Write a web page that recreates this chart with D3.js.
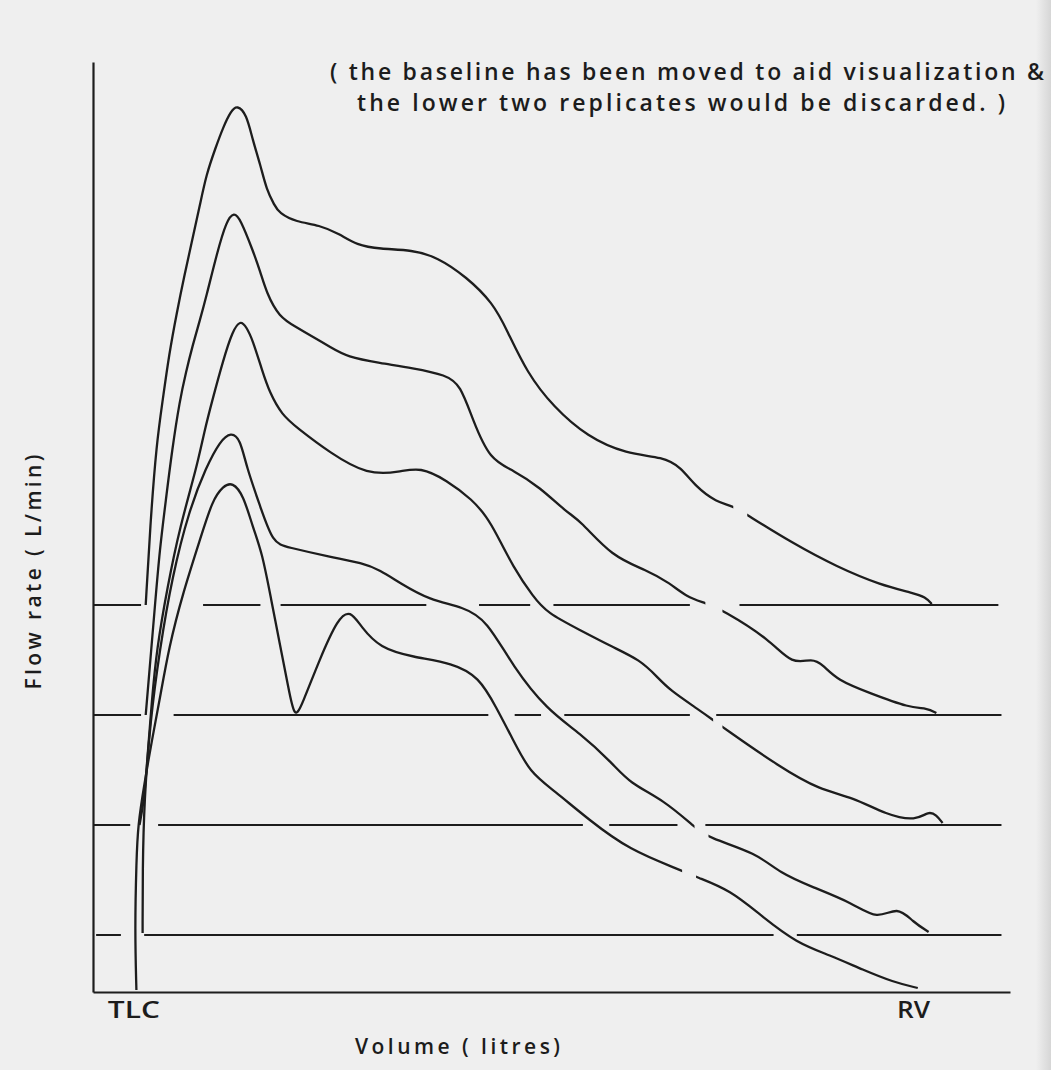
<!DOCTYPE html>
<html>
<head>
<meta charset="utf-8">
<script src="https://cdn.jsdelivr.net/npm/d3@7"></script>
<style>
  body { margin: 0; background: #efefef; }
  #container { width: 1051px; height: 1070px; }
  text { font-family: "Open Sans", "DejaVu Sans", sans-serif; font-weight: 600; fill: #1c1c1c; }
</style>
</head>
<body>
<div id="container"></div>
<script>
// replicates, top to bottom. volume in litres from TLC, flow in L/min above own baseline
const rep1Volume = [0.00,0.03,0.07,0.11,0.15,0.20,0.25,0.30,0.35,0.39,0.45,0.50,0.55,0.59,0.65,0.69,0.74,0.78,0.83,0.86,0.97,1.12,1.25,1.36,1.51,1.72,1.88,2.07,2.24,2.33,2.46,2.63,2.85,3.10,3.34,3.45,3.55,3.68,3.79,3.88,4.17,4.46,4.74,4.95,5.03,5.07];
const rep1Flow   = [0,82,162,205,250,292,330,365,400,430,457,478,494,500,491,465,440,415,400,392,383,380,371,360,356,355,348,328,302,275,232,198,168,151,148,138,118,103,99,90,62,38,20,12,8,1];

const rep2Volume = [0.00,0.03,0.06,0.09,0.13,0.17,0.22,0.26,0.30,0.35,0.39,0.46,0.52,0.57,0.61,0.69,0.74,0.78,0.86,0.97,1.08,1.19,1.30,1.51,1.72,1.94,2.03,2.11,2.22,2.37,2.54,2.72,2.80,3.01,3.23,3.38,3.49,3.61,3.72,4.03,4.17,4.30,4.37,4.46,4.67,4.93,5.04,5.10];
const rep2Flow   = [0,55,110,165,215,265,315,343,368,395,418,462,494,503,496,465,443,422,398,388,378,368,358,352,347,340,330,295,255,245,228,202,195,158,145,132,118,112,105,75,50,57,50,35,22,7,7,2];

const rep3Volume = [-0.04,-0.01,0.01,0.04,0.07,0.14,0.22,0.33,0.38,0.43,0.50,0.56,0.61,0.65,0.69,0.75,0.80,0.88,0.97,1.19,1.43,1.64,1.77,1.94,2.11,2.20,2.26,2.37,2.50,2.59,2.80,3.01,3.19,3.30,3.38,3.57,3.66,3.72,4.09,4.35,4.56,4.78,4.97,5.05,5.10,5.14];
const rep3Flow   = [0,25,65,125,175,238,298,358,395,425,465,494,505,498,485,455,432,410,398,372,350,353,358,345,325,308,292,258,228,212,195,178,165,148,135,115,105,98,58,35,28,10,4,14,10,2];

const rep4Volume = [-0.02,-0.02,-0.01,0.03,0.09,0.17,0.28,0.39,0.48,0.55,0.61,0.65,0.74,0.82,0.91,1.19,1.40,1.51,1.64,1.83,2.05,2.20,2.37,2.59,2.80,3.01,3.12,3.34,3.54,3.63,3.94,4.09,4.30,4.56,4.72,4.85,4.95,5.05];
const rep4Flow   = [2,65,135,215,285,358,425,468,494,503,496,468,428,392,388,378,372,365,352,335,328,315,268,225,202,172,152,135,108,97,82,62,48,32,15,29,13,3];

const rep5Volume = [-0.06,-0.07,-0.06,-0.05,-0.01,0.04,0.09,0.15,0.24,0.35,0.43,0.50,0.56,0.63,0.69,0.75,0.81,0.86,0.92,0.96,1.01,1.12,1.24,1.32,1.39,1.51,1.72,1.98,2.15,2.26,2.37,2.48,2.63,2.86,3.12,3.45,3.55,3.77,3.98,4.20,4.41,4.63,4.82,4.98];
const rep5Flow   = [2,62,132,167,207,252,292,345,399,452,492,506,510,497,465,440,392,352,305,272,288,332,374,382,365,344,335,329,315,285,252,219,202,172,142,122,115,102,75,49,37,22,10,4];

// baselines were shifted upward so the replicates do not overlap
const baselineOffsets = [387, 277, 167, 57, 0];

// breaks in the pen trace (volume from, to)
const curveGaps = [[3.79, 3.88], [3.61, 3.72], [3.66, 3.72], [3.54, 3.63], [3.46, 3.55]];

// drawn pieces of each shifted baseline (volume from, to)
const baselineSegs1 = [[-0.34,-0.03],[0.37,0.74],[0.87,1.81],[2.15,2.48],[2.63,3.51],[3.83,5.50]];
const baselineSegs2 = [[-0.34,-0.03],[0.18,2.21],[2.38,2.55],[2.70,3.51],[3.68,5.52]];
const baselineSegs3 = [[-0.34,-0.10],[0.08,2.82],[2.99,3.43],[3.61,5.52]];
const baselineSegs4 = [[-0.32,-0.16],[-0.01,4.05],[4.20,5.52]];

const volumeTicks = [-0.08, 4.95];
const volumeTickLabels = ["TLC", "RV"];
const noteLines = ["( the baseline has been moved to aid visualization &", "the lower two replicates would be discarded. )"];

const volumeDomain = [-0.34, 5.575];
const flowDomain = [0, 930];

var svg;
const width = 1051, height = 1070;
const ink = "#1d1d1d";

function initChart(){
    container.innerHTML = "";
    svg = d3.select(container)
            .append("svg")
            .attr("width", width)
            .attr("height", height);

    let shade = svg.append("defs").append("linearGradient")
            .attr("id", "edge")
            .attr("x1", 0).attr("x2", 1).attr("y1", 0).attr("y2", 0);
    shade.append("stop").attr("offset", 0).attr("stop-color", "#efefef");
    shade.append("stop").attr("offset", 1).attr("stop-color", "#d6d6d6");

    svg.append("rect").attr("width", width).attr("height", height).attr("fill", "#efefef");
    svg.append("rect").attr("x", 1036).attr("width", 15).attr("height", height).attr("fill", "url(#edge)");
}

function drawChart(){
    initChart();

    let x = d3.scaleLinear().domain(volumeDomain).range([93, 1010]);
    let y = d3.scaleLinear().domain(flowDomain).range([992, 62]);

    let volumes = [rep1Volume, rep2Volume, rep3Volume, rep4Volume, rep5Volume];
    let flows = [rep1Flow, rep2Flow, rep3Flow, rep4Flow, rep5Flow];
    let baselines = [baselineSegs1, baselineSegs2, baselineSegs3, baselineSegs4];

    // shifted baselines
    baselines.forEach((segs, i) => {
        svg.append("g").selectAll("line")
            .data(segs)
            .enter()
            .append("line")
            .attr("x1", (d) => x(d[0]))
            .attr("x2", (d) => x(d[1]))
            .attr("y1", y(baselineOffsets[i]))
            .attr("y2", y(baselineOffsets[i]))
            .attr("stroke", ink)
            .attr("stroke-width", 2);
    });

    // flow-volume curves
    let defs = svg.select("defs");
    volumes.forEach((vol, i) => {
        let pts = vol.map((v, j) => [v, flows[i][j]]);
        let gap = curveGaps[i];
        let clip = defs.append("clipPath").attr("id", "gap" + i);
        clip.append("rect")
            .attr("x", 0).attr("y", 0)
            .attr("width", x(gap[0])).attr("height", height);
        clip.append("rect")
            .attr("x", x(gap[1])).attr("y", 0)
            .attr("width", width - x(gap[1])).attr("height", height);

        let line = d3.line()
            .x((d) => x(d[0]))
            .y((d) => y(baselineOffsets[i] + d[1]))
            .curve(d3.curveBasis);

        svg.append("path")
            .datum(pts)
            .attr("d", line)
            .attr("fill", "none")
            .attr("stroke", ink)
            .attr("stroke-width", 2.3)
            .attr("stroke-linejoin", "round")
            .attr("clip-path", "url(#gap" + i + ")");
    });

    // axes
    let xAxis = svg.append("g")
        .attr("transform", "translate(0," + y(0) + ")")
        .call(d3.axisBottom(x)
            .tickValues(volumeTicks)
            .tickFormat((d, i) => volumeTickLabels[i])
            .tickSize(0)
            .tickSizeOuter(0)
            .tickPadding(10));
    xAxis.select(".domain").attr("stroke", ink).attr("stroke-width", 2.2);
    xAxis.selectAll("text")
        .attr("font-family", "Open Sans, DejaVu Sans, sans-serif")
        .attr("font-size", 23)
        .attr("font-weight", "bold")
        .attr("fill", ink)
        .attr("textLength", (d, i) => i == 0 ? 52 : 33)
        .attr("lengthAdjust", "spacingAndGlyphs");

    let yAxis = svg.append("g")
        .attr("transform", "translate(" + x(volumeDomain[0]) + ",0)")
        .call(d3.axisLeft(y).tickValues([]).tickSizeOuter(0));
    yAxis.select(".domain").attr("stroke", ink).attr("stroke-width", 2.2);

    svg.append("text")
        .attr("x", 355).attr("y", 1054)
        .attr("font-size", 21)
        .attr("textLength", 205)
        .attr("lengthAdjust", "spacing")
        .text("Volume ( litres)");

    svg.append("text")
        .attr("transform", "translate(41,572) rotate(-90)")
        .attr("text-anchor", "middle")
        .attr("font-size", 21)
        .attr("textLength", 235)
        .attr("lengthAdjust", "spacing")
        .text("Flow rate ( L/min)");

    svg.append("text")
        .attr("x", 330).attr("y", 80)
        .attr("font-size", 23)
        .attr("textLength", 714)
        .attr("lengthAdjust", "spacing")
        .text(noteLines[0]);
    svg.append("text")
        .attr("x", 357).attr("y", 111)
        .attr("font-size", 23)
        .attr("textLength", 648)
        .attr("lengthAdjust", "spacing")
        .text(noteLines[1]);
}

drawChart();
</script>
</body>
</html>
